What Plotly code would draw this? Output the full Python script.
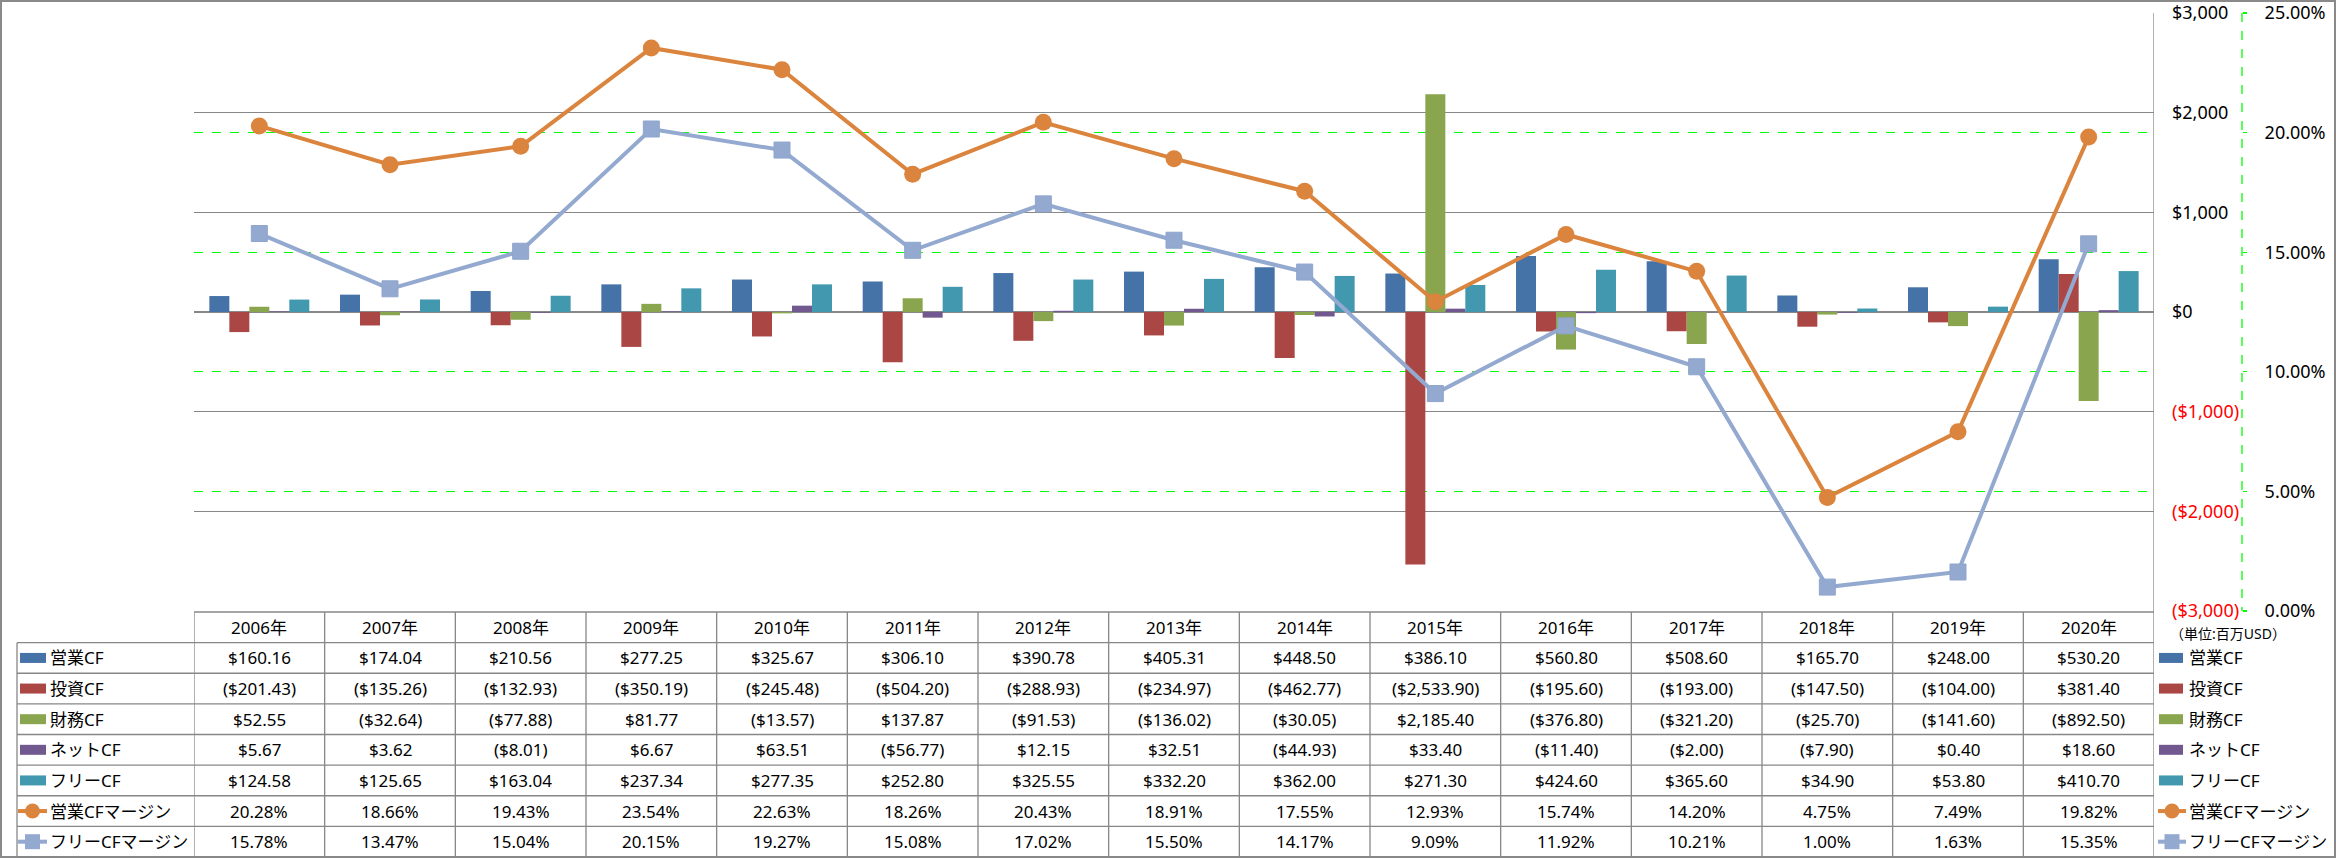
import plotly.graph_objects as go

W, H = 2336, 858

years = ["2006年", "2007年", "2008年", "2009年", "2010年", "2011年", "2012年", "2013年",
         "2014年", "2015年", "2016年", "2017年", "2018年", "2019年", "2020年"]
op_cf = [160.16, 174.04, 210.56, 277.25, 325.67, 306.10, 390.78, 405.31, 448.50, 386.10,
         560.80, 508.60, 165.70, 248.00, 530.20]
inv_cf = [-201.43, -135.26, -132.93, -350.19, -245.48, -504.20, -288.93, -234.97, -462.77,
          -2533.90, -195.60, -193.00, -147.50, -104.00, 381.40]
fin_cf = [52.55, -32.64, -77.88, 81.77, -13.57, 137.87, -91.53, -136.02, -30.05, 2185.40,
          -376.80, -321.20, -25.70, -141.60, -892.50]
net_cf = [5.67, 3.62, -8.01, 6.67, 63.51, -56.77, 12.15, 32.51, -44.93, 33.40, -11.40,
          -2.00, -7.90, 0.40, 18.60]
free_cf = [124.58, 125.65, 163.04, 237.34, 277.35, 252.80, 325.55, 332.20, 362.00, 271.30,
           424.60, 365.60, 34.90, 53.80, 410.70]
op_margin = [20.28, 18.66, 19.43, 23.54, 22.63, 18.26, 20.43, 18.91, 17.55, 12.93, 15.74,
             14.20, 4.75, 7.49, 19.82]
free_margin = [15.78, 13.47, 15.04, 20.15, 19.27, 15.08, 17.02, 15.50, 14.17, 9.09, 11.92,
               10.21, 1.00, 1.63, 15.35]

bar_names = ["営業CF", "投資CF", "財務CF", "ネットCF", "フリーCF"]
line_names = ["営業CFマージン", "フリーCFマージン"]
usd_ticks = [-3000, -2000, -1000, 0, 1000, 2000, 3000]
pct_ticks = [0, 5, 10, 15, 20, 25]
unit_label = "（単位:百万USD）"

bar_colors = ["#4572A7", "#AA4643", "#89A54E", "#71588F", "#4198AF"]
line_colors = ["#DB843D", "#93A9CF"]
GRID = "#878787"
GREEN = "#00FF00"
FONT = "Noto Sans, Noto Sans CJK JP, sans-serif"

# pixel geometry
X0, X1 = 194, 2154
Y0, Y1 = 13, 611
row_edges = [612 + 30.625 * k for k in range(9)]
row_centers = [(row_edges[k] + row_edges[k + 1]) / 2 for k in range(8)]


def px(x):
    return x / W


def py(y):
    return 1 - y / H


def usd(v):
    s = "${:,.2f}".format(abs(v))
    return "(" + s + ")" if v < 0 else s


def usd_tick(v):
    s = "${:,.0f}".format(abs(v))
    if v < 0:
        return '<span style="color:#FF0000">(' + s + ')</span>'
    return s


fig = go.Figure()
bar_series = [op_cf, inv_cf, fin_cf, net_cf, free_cf]
for name, vals, col in zip(bar_names, bar_series, bar_colors):
    fig.add_trace(go.Bar(x=years, y=vals, name=name, marker=dict(color=col, line=dict(width=0)),
                         yaxis="y"))

fig.add_trace(go.Scatter(x=years, y=[v / 100 for v in op_margin], name=line_names[0],
                         mode="lines+markers", yaxis="y2",
                         line=dict(color=line_colors[0], width=4),
                         marker=dict(symbol="circle", size=17, color=line_colors[0])))
fig.add_trace(go.Scatter(x=years, y=[v / 100 for v in free_margin], name=line_names[1],
                         mode="lines+markers", yaxis="y2",
                         line=dict(color=line_colors[1], width=4),
                         marker=dict(symbol="square", size=16, color=line_colors[1],
                                     line=dict(color="#8FA5CC", width=1))))

shapes = []
line_style = dict(color=GRID, width=1.3)
# outer border
shapes.append(dict(type="rect", xref="paper", yref="paper", x0=px(1), x1=px(W - 1),
                   y0=py(H - 1), y1=py(1), line=dict(color="#8A8A8A", width=2)))
# table horizontal lines
shapes.append(dict(type="line", xref="paper", yref="paper", x0=px(X0), x1=px(X1),
                   y0=py(row_edges[0]), y1=py(row_edges[0]), line=line_style))
for e in row_edges[1:]:
    shapes.append(dict(type="line", xref="paper", yref="paper", x0=px(17), x1=px(X1),
                       y0=py(e), y1=py(e), line=line_style))
# table vertical lines
shapes.append(dict(type="line", xref="paper", yref="paper", x0=px(17), x1=px(17),
                   y0=py(row_edges[1]), y1=py(row_edges[-1]), line=line_style))
for k in range(len(years) + 1):
    top = Y0 if k == len(years) else row_edges[0]
    shapes.append(dict(type="line", xref="x", yref="paper", x0=k - 0.5, x1=k - 0.5,
                       y0=py(top), y1=py(row_edges[-1]), line=line_style))
# secondary axis dashed line
shapes.append(dict(type="line", xref="paper", yref="paper", x0=px(2242), x1=px(2242),
                   y0=py(Y0), y1=py(Y1), line=dict(color=GREEN, width=1.3, dash="dash")))

annotations = []
# header
for yr in years:
    annotations.append(dict(x=yr, xref="x", y=py(row_centers[0]), yref="paper", text=yr,
                            showarrow=False, font=dict(size=17, color="black"),
                            xanchor="center", yanchor="middle"))
all_rows = bar_series + [op_margin, free_margin]
for r, vals in enumerate(all_rows):
    cy = row_centers[r + 1]
    for yr, v in zip(years, vals):
        txt = usd(v) if r < 5 else "{:.2f}%".format(v)
        annotations.append(dict(x=yr, xref="x", y=py(cy), yref="paper", text=txt,
                                showarrow=False, font=dict(size=17, color="black"),
                                xanchor="center", yanchor="middle"))

# legend keys (left in table and right of the table)
all_names = bar_names + line_names
for side in ("left", "right"):
    if side == "left":
        sx0, sx1, lx0, lx1, mx, tx = 20, 46, 18, 47, 32.5, 48
    else:
        sx0, sx1, lx0, lx1, mx, tx = 2159, 2183, 2158, 2186, 2172, 2187
    for r, name in enumerate(all_names):
        cy = row_centers[r + 1]
        if r < 5:
            shapes.append(dict(type="rect", xref="paper", yref="paper", x0=px(sx0), x1=px(sx1),
                               y0=py(cy + 5), y1=py(cy - 5), line=dict(width=0),
                               fillcolor=bar_colors[r]))
        else:
            col = line_colors[r - 5]
            shapes.append(dict(type="line", xref="paper", yref="paper", x0=px(lx0), x1=px(lx1),
                               y0=py(cy), y1=py(cy), line=dict(color=col, width=4)))
            shapes.append(dict(type="circle" if r == 5 else "rect", xref="paper", yref="paper",
                               xsizemode="pixel", ysizemode="pixel",
                               xanchor=px(mx), yanchor=py(cy), x0=-7.5, x1=7.5, y0=-7.5, y1=7.5,
                               line=dict(width=0), fillcolor=col))
        annotations.append(dict(x=px(tx), xref="paper", y=py(cy), yref="paper", text=name,
                                showarrow=False, font=dict(size=17, color="black"),
                                xanchor="left", yanchor="middle"))

annotations.append(dict(x=px(2168), xref="paper", y=py(633), yref="paper", text=unit_label,
                        showarrow=False, font=dict(size=14, color="black"),
                        xanchor="left", yanchor="middle"))

fig.update_layout(
    width=W, height=H,
    margin=dict(l=0, r=0, t=0, b=0),
    paper_bgcolor="white", plot_bgcolor="white",
    font=dict(family=FONT, size=17, color="black"),
    showlegend=False,
    barmode="group", bargap=0.235, bargroupgap=0,
    hovermode=False,
    xaxis=dict(domain=[px(X0), px(X1)], type="category", range=[-0.5, len(years) - 0.5],
               showticklabels=False, showgrid=False, zeroline=False, showline=False,
               ticks="", fixedrange=True),
    yaxis=dict(domain=[py(Y1), py(Y0)], range=[-3000, 3000], side="right", anchor="x",
               tickvals=usd_ticks, ticktext=[usd_tick(v) for v in usd_ticks],
               showgrid=True, gridcolor=GRID, gridwidth=1.3, zeroline=True,
               zerolinecolor=GRID, zerolinewidth=1.3, showline=False, ticks="",
               ticklabelstandoff=17, automargin=False, tickfont=dict(size=18),
               fixedrange=True),
    yaxis2=dict(domain=[py(Y1), py(Y0)], range=[0, 0.25], overlaying="y", side="right",
                anchor="free", position=px(2242), tickvals=[v / 100 for v in pct_ticks],
                tickformat=".2%", showgrid=True, gridcolor=GREEN, gridwidth=1.3,
                griddash="dash", zeroline=False, showline=False, ticks="outside",
                ticklen=4, tickcolor=GREEN, tickwidth=1.3, ticklabelstandoff=14,
                automargin=False, tickfont=dict(size=18), fixedrange=True),
    shapes=shapes,
    annotations=annotations,
)

fig.write_html("out.html", config={"displayModeBar": False, "staticPlot": True},
               post_script="document.body.style.margin='0';document.body.style.overflow='hidden';")
